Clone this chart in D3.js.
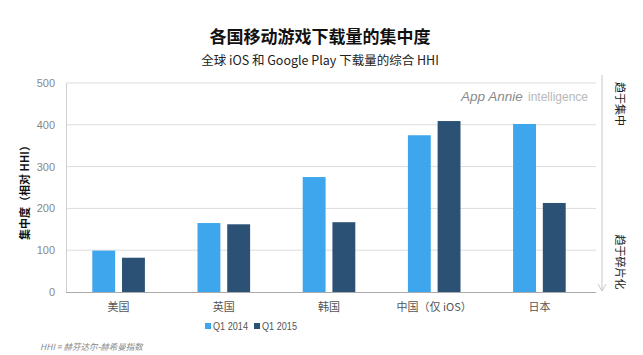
<!DOCTYPE html>
<html><head><meta charset="utf-8">
<script src="https://cdn.jsdelivr.net/npm/d3@7"></script>
<style>body{margin:0;background:#fff;} svg{display:block;font-family:"Noto Sans CJK SC","Noto Sans",sans-serif;}</style>
</head><body>
<script>
const categories = ["美国","英国","韩国","中国（仅 iOS）","日本"];
const seriesNames = ["Q1 2014","Q1 2015"];
const q1_2014 = [99, 165, 275, 375, 402];
const q1_2015 = [82, 162, 167, 409, 213];
const yTicks = [0,100,200,300,400,500];
const colors = ["#3ea6ec","#2b5275"];

const W=643,H=355;
const svg=d3.select("body").append("svg").attr("width",W).attr("height",H);
const x0=d3.scaleBand().domain(categories).range([66,592]).paddingInner(0.5).paddingOuter(0.25);
const x1=d3.scaleBand().domain(seriesNames).range([0,x0.bandwidth()]).paddingInner(0.23);
const y=d3.scaleLinear().domain([0,500]).range([292,83]);
const color=d3.scaleOrdinal().domain(seriesNames).range(colors);

// title
svg.append("text").attr("x",320).attr("y",43).attr("text-anchor","middle").attr("font-size",17).attr("font-weight","bold").attr("fill","#111").text("各国移动游戏下载量的集中度");
svg.append("text").attr("x",320).attr("y",65).attr("text-anchor","middle").attr("font-size",12.5).attr("fill","#222").text("全球 iOS 和 Google Play 下载量的综合 HHI");

// grid
svg.append("g").selectAll("line").data(yTicks.filter(d=>d>0)).join("line")
 .attr("x1",66).attr("x2",596).attr("y1",d=>y(d)).attr("y2",d=>y(d)).attr("stroke","#dcdcdc").attr("stroke-width",1);
// y axis
const ya=svg.append("g").attr("transform","translate(66,0)").call(d3.axisLeft(y).tickValues(yTicks).tickSize(0).tickPadding(11));
ya.select(".domain").attr("stroke","#cfcfcf");
ya.selectAll("text").attr("font-size",11).attr("fill","#888").attr("font-family","Liberation Sans, Arial, sans-serif");
// x axis
const xa=svg.append("g").attr("transform","translate(0,292)").call(d3.axisBottom(x0).tickSize(0).tickPadding(11));
xa.select(".domain").remove();
svg.append("line").attr("x1",66).attr("x2",596).attr("y1",292.5).attr("y2",292.5).attr("stroke","#aaa");
xa.selectAll("text").attr("font-size",11).attr("fill","#555").attr("font-family","Noto Sans CJK SC");

// watermark
svg.append("text").attr("x",461).attr("y",101).attr("font-size",13.5).attr("font-style","italic").attr("fill","#8a8a8a")
 .attr("font-family","Liberation Sans, Arial, sans-serif").text("App Annie");
svg.append("text").attr("x",528).attr("y",101).attr("font-size",12).attr("fill","#b8b8b8")
 .attr("font-family","Liberation Sans, Arial, sans-serif").text("intelligence");

// bars
const data=categories.map((c,i)=>({cat:c,vals:[q1_2014[i],q1_2015[i]]}));
svg.append("g").selectAll("g").data(data).join("g").attr("transform",d=>`translate(${x0(d.cat)},0)`)
 .selectAll("rect").data(d=>d.vals.map((v,j)=>({s:seriesNames[j],v}))).join("rect")
 .attr("x",d=>x1(d.s)).attr("width",x1.bandwidth()).attr("y",d=>y(d.v)).attr("height",d=>y(0)-y(d.v)).attr("fill",d=>color(d.s));

// y label
svg.append("text").attr("transform","translate(29,190) rotate(-90)").attr("text-anchor","middle").attr("font-size",11).attr("font-weight","bold").attr("fill","#111").text("集中度（相对 HHI）");

// right arrow
svg.append("line").attr("x1",602).attr("x2",602).attr("y1",75).attr("y2",291).attr("stroke","#c8c8c8").attr("stroke-width",1);
svg.append("path").attr("d","M598,284 L602,291 L606,284").attr("fill","none").attr("stroke","#c8c8c8");
svg.append("text").attr("transform","translate(616,104) rotate(90)").attr("text-anchor","middle").attr("font-size",11).attr("fill","#222").text("趋于集中");
svg.append("text").attr("transform","translate(616,262) rotate(90)").attr("text-anchor","middle").attr("font-size",11).attr("fill","#222").text("趋于碎片化");

// legend
const lg=svg.append("g").attr("transform","translate(205,330)");
seriesNames.forEach((s,i)=>{
  const g=lg.append("g").attr("transform",`translate(${i*49},0)`);
  g.append("rect").attr("x",0).attr("y",-7).attr("width",6).attr("height",6).attr("fill",color(s));
  g.append("text").attr("x",8).attr("y",0).attr("font-size",10.5).attr("fill","#555").attr("font-family","Liberation Sans, Arial, sans-serif")
   .attr("textLength",35).attr("lengthAdjust","spacingAndGlyphs").text(s);
});

// footnote
svg.append("text").attr("x",40).attr("y",350).attr("font-size",8.5).attr("font-style","italic").attr("fill","#888").text("HHI = 赫芬达尔-赫希曼指数");
</script>
</body></html>
